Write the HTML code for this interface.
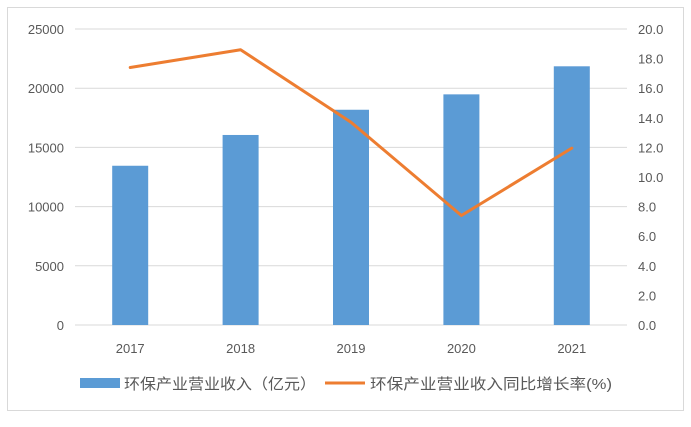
<!DOCTYPE html>
<html><head><meta charset="utf-8"><style>
html,body{margin:0;padding:0;background:#fff;}
svg text{font-family:"Liberation Sans","Noto Sans CJK SC",sans-serif;fill:#595959;}
</style></head><body>
<svg width="691" height="422" xmlns="http://www.w3.org/2000/svg">
<rect x="7.5" y="7.5" width="676" height="403" fill="#fff" stroke="#d9d9d9"/>
<g id="grid"></g><g id="bars"></g><g id="line"></g><g id="axes"></g>
<g>
<rect x="80" y="378" width="40" height="10" fill="#5b9bd5"/>
<text x="124" y="389" font-size="15" textLength="192" lengthAdjust="spacingAndGlyphs">环保产业营业收入（亿元）</text>
<line x1="325" y1="383" x2="365" y2="383" stroke="#ed7d31" stroke-width="3"/>
<text x="370" y="389" font-size="15" textLength="242" lengthAdjust="spacingAndGlyphs">环保产业营业收入同比增长率(%)</text>
</g>
</svg>
<script>
const categories=["2017","2018","2019","2020","2021"];
const revenue=[13450,16050,18180,19480,21850];
const growth=[17.4,18.6,13.7,7.4,11.95];
const leftTicks=[0,5000,10000,15000,20000,25000];
const rightTicks=["0.0","2.0","4.0","6.0","8.0","10.0","12.0","14.0","16.0","18.0","20.0"];
const NS="http://www.w3.org/2000/svg";
const x0=75,x1=627,yTop=29,yBot=325;
const step=(x1-x0)/categories.length;
const xc=i=>x0+step*(i+0.5);
const yL=v=>yBot-(v/25000)*(yBot-yTop);
const yR=v=>yBot-(v/20)*(yBot-yTop);
function mk(t,a,p){const e=document.createElementNS(NS,t);for(const k in a)e.setAttribute(k,a[k]);p.appendChild(e);return e;}
const grid=document.getElementById('grid'),bars=document.getElementById('bars'),line=document.getElementById('line'),axes=document.getElementById('axes');
leftTicks.forEach(v=>{
  const y=yL(v);
  const g=mk('line',{x1:x0,x2:x1,y1:y,y2:y,stroke:'#d9d9d9'},grid);
  
  
  const t=mk('text',{x:64,y:y+5,'text-anchor':'end','font-size':'13'},axes);t.textContent=v;
  
  
});
rightTicks.forEach(s=>{
  const y=yR(parseFloat(s));
  const t=mk('text',{x:638,y:y+5,'font-size':'13'},axes);t.textContent=s;
  
  
});
categories.forEach((c,i)=>{
  const b=mk('rect',{x:xc(i)-18,y:yL(revenue[i]),width:36,height:yBot-yL(revenue[i]),fill:'#5b9bd5'},bars);
  
  
  const t=mk('text',{x:xc(i),y:353,'text-anchor':'middle','font-size':'13'},axes);t.textContent=c;
  
  
});
const pts=growth.map((v,i)=>xc(i)+','+yR(v)).join(' ');
const pl=mk('polyline',{points:pts,fill:'none',stroke:'#ed7d31','stroke-width':3,'stroke-linejoin':'round','stroke-linecap':'round'},line);


</script>
</body></html>
